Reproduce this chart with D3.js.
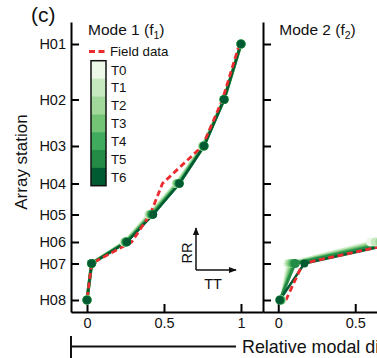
<!DOCTYPE html>
<html>
<head>
<meta charset="utf-8">
<script src="https://cdn.jsdelivr.net/npm/d3@7"></script>
<style>
  html, body { margin: 0; padding: 0; background: #fff; }
  svg { display: block; font-family: "Liberation Sans", Arial, sans-serif; }
</style>
</head>
<body>
<svg id="chart" width="377" height="358"></svg>
<script>
// Array stations, top to bottom, with their relative elevation
const stations = ["H01", "H02", "H03", "H04", "H05", "H06", "H07", "H08"];
const stationElev = [256, 200.5, 154, 116.5, 85.5, 58, 36.5, 0];

// Time steps shown in the colour bar
const steps = ["T0", "T1", "T2", "T3", "T4", "T5", "T6"];

// Mode 1 relative modal displacement per station (H01..H08), one row per step
const mode1 = [
  [1.00, 0.89, 0.75, 0.58, 0.40, 0.24, 0.03, 0.00],
  [1.00, 0.89, 0.75, 0.58, 0.405, 0.245, 0.03, 0.00],
  [1.00, 0.89, 0.755, 0.585, 0.41, 0.25, 0.03, 0.00],
  [1.00, 0.89, 0.755, 0.59, 0.415, 0.25, 0.03, 0.00],
  [1.00, 0.89, 0.76, 0.595, 0.42, 0.255, 0.03, 0.00],
  [1.00, 0.89, 0.76, 0.60, 0.425, 0.255, 0.03, 0.00],
  [1.00, 0.89, 0.76, 0.60, 0.43, 0.26, 0.03, 0.00]
];
const mode1Field = [0.99, 0.88, 0.75, 0.49, 0.41, 0.29, 0.03, 0.00];

// Mode 2 relative modal displacement per station (H01..H08)
const mode2 = [
  [0.72, 0.78, 0.86, 0.95, 0.98, 0.60, 0.06, 0.02],
  [0.73, 0.79, 0.87, 0.96, 0.99, 0.63, 0.07, 0.02],
  [0.74, 0.80, 0.88, 0.97, 1.00, 0.66, 0.08, 0.02],
  [0.75, 0.81, 0.89, 0.98, 1.00, 0.69, 0.09, 0.015],
  [0.76, 0.82, 0.90, 0.98, 1.00, 0.72, 0.10, 0.015],
  [0.77, 0.83, 0.91, 0.99, 1.00, 0.75, 0.11, 0.01],
  [0.78, 0.84, 0.92, 1.00, 1.00, 0.80, 0.17, 0.01]
];
const mode2Field = [0.78, 0.84, 0.92, 1.00, 1.00, 0.80, 0.16, 0.05];

const xTicks = [0, 0.5, 1];
const xTickLabels = ["0", "0.5", "1"];

const svg = d3.select("#chart");
const greens = d3.schemeGreens[7];
const red = "#ec2b2e";
const ink = "#111";

const y = d3.scaleLinear().domain([-12, 278]).range([312, 22]);

const panels = [
  { title: "Mode 1 (f", sub: "1", data: mode1, field: mode1Field,
    x: d3.scaleLinear().domain([-0.104, 1.143]).range([71, 263]), showLabels: true },
  { title: "Mode 2 (f", sub: "2", data: mode2, field: mode2Field,
    x: d3.scaleLinear().domain([-0.099, 1.2]).range([263, 463]), showLabels: false }
];

panels.forEach(p => {
  const x = p.x;
  const x0 = x.range()[0];
  const g = svg.append("g");

  // y axis with inward ticks
  const yAxis = d3.axisLeft(y)
    .tickValues(stationElev)
    .tickFormat((d, i) => p.showLabels ? stations[i] : "")
    .tickSize(-8).tickSizeOuter(0).tickPadding(5);
  const ya = g.append("g").attr("transform", `translate(${x0},0)`).call(yAxis);
  ya.select(".domain").attr("stroke-width", 2);
  ya.selectAll(".tick line").attr("stroke-width", 2);
  ya.selectAll(".tick text").attr("font-size", 14.5).attr("fill", ink)
    .attr("font-family", "Liberation Sans, Arial, sans-serif");

  // x axis with inward ticks
  const xAxis = d3.axisBottom(x)
    .tickValues(xTicks)
    .tickFormat((d, i) => xTickLabels[i])
    .tickSize(-8).tickSizeOuter(0).tickPadding(6);
  const xa = g.append("g").attr("transform", `translate(0,${y(-12)})`).call(xAxis);
  xa.select(".domain").attr("stroke-width", 2);
  xa.selectAll(".tick line").attr("stroke-width", 2);
  xa.selectAll(".tick text").attr("font-size", 14.5).attr("fill", ink)
    .attr("font-family", "Liberation Sans, Arial, sans-serif");

  // Title
  const t = g.append("text").attr("x", x(0) + 1).attr("y", 35)
    .attr("font-size", 15.5).attr("fill", ink).text(p.title);
  t.append("tspan").attr("font-size", 10.5).attr("dy", 4).text(p.sub);
  t.append("tspan").attr("dy", -4).text(")");

  const line = d3.line().x(d => x(d[0])).y(d => y(d[1]));
  const pts = arr => arr.map((v, i) => [v, stationElev[i]]);

  // Green lines for each time step
  p.data.forEach((row, k) => {
    g.append("path").datum(pts(row))
      .attr("d", line).attr("fill", "none")
      .attr("stroke", greens[k])
      .attr("stroke-width", k === 6 ? 2.4 : 3.6 - k * 0.15)
      .attr("stroke-linejoin", "round");
  });

  // Field data
  g.append("path").datum(pts(p.field))
    .attr("d", line).attr("fill", "none")
    .attr("stroke", red).attr("stroke-width", 2.8)
    .attr("stroke-dasharray", "6,3.5");

  // Points for each time step
  p.data.forEach((row, k) => {
    g.selectAll(null).data(pts(row)).enter().append("circle")
      .attr("cx", d => x(d[0])).attr("cy", d => y(d[1]))
      .attr("r", k === 6 ? 4 : 4.6)
      .attr("fill", greens[k]);
  });
});

// Legend: field data
svg.append("line").attr("x1", 89).attr("x2", 106).attr("y1", 51.5).attr("y2", 51.5)
  .attr("stroke", red).attr("stroke-width", 2.8).attr("stroke-dasharray", "6,3.5");
svg.append("text").attr("x", 110).attr("y", 56).attr("font-size", 13.3).attr("fill", ink)
  .text("Field data");

// Legend: colour bar
const cbY = d3.scaleBand().domain(steps).range([60.7, 185.7]);
const cb = svg.append("g");
cb.selectAll("rect").data(steps).enter().append("rect")
  .attr("x", 91).attr("y", d => cbY(d)).attr("width", 15).attr("height", cbY.bandwidth() + 0.3)
  .attr("fill", (d, i) => greens[i]);
cb.append("rect").attr("x", 91).attr("y", 60.7).attr("width", 15).attr("height", 125)
  .attr("fill", "none").attr("stroke", ink).attr("stroke-width", 1.5);
cb.selectAll("text").data(steps).enter().append("text")
  .attr("x", 111).attr("y", d => cbY(d) + cbY.bandwidth() / 2 + 5)
  .attr("font-size", 13.3).attr("fill", ink).text(d => d);

// Panel letter and y label
svg.append("text").attr("x", 31).attr("y", 22).attr("font-size", 21).attr("fill", ink).text("(c)");
svg.append("text").attr("transform", "translate(27,162) rotate(-90)")
  .attr("text-anchor", "middle").attr("font-size", 17).attr("fill", ink).text("Array station");

// Direction indicator
const defs = svg.append("defs");
defs.append("marker").attr("id", "arrow").attr("viewBox", "0 0 10 10")
  .attr("refX", 9).attr("refY", 5).attr("markerWidth", 8).attr("markerHeight", 8)
  .attr("markerUnits", "userSpaceOnUse").attr("orient", "auto")
  .append("path").attr("d", "M0,1 L10,5 L0,9 Z").attr("fill", ink);
svg.append("line").attr("x1", 196).attr("y1", 270).attr("x2", 196).attr("y2", 228)
  .attr("stroke", ink).attr("stroke-width", 1.5).attr("marker-end", "url(#arrow)");
svg.append("line").attr("x1", 196).attr("y1", 270).attr("x2", 236).attr("y2", 270)
  .attr("stroke", ink).attr("stroke-width", 1.5).attr("marker-end", "url(#arrow)");
svg.append("text").attr("transform", "translate(192,253) rotate(-90)")
  .attr("text-anchor", "middle").attr("font-size", 14.5).attr("fill", ink).text("RR");
svg.append("text").attr("x", 213).attr("y", 289).attr("text-anchor", "middle")
  .attr("font-size", 14.5).attr("fill", ink).text("TT");

// Shared x label with bracket line
svg.append("path").attr("d", "M71,336V358M71,346.5H236")
  .attr("fill", "none").attr("stroke", ink).attr("stroke-width", 2);
svg.append("text").attr("x", 242).attr("y", 352.7).attr("font-size", 17.9).attr("fill", ink)
  .text("Relative modal displacement");
</script>
</body>
</html>
